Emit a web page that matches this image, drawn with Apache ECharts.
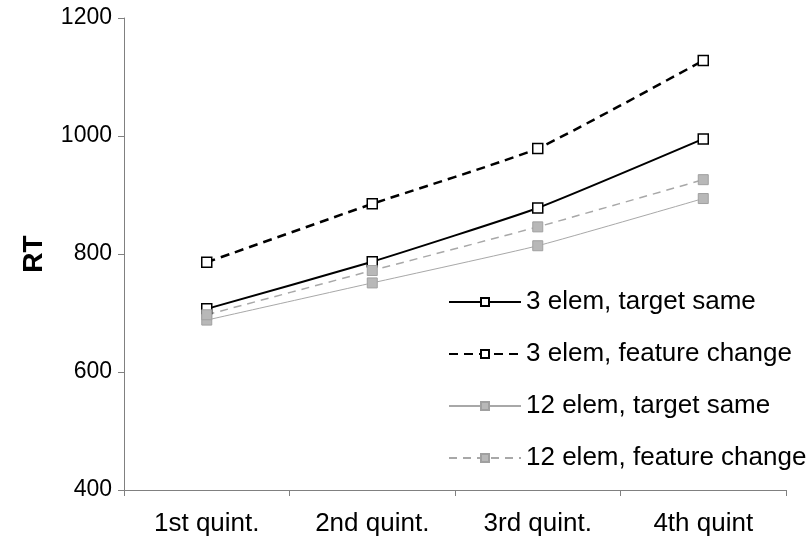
<!DOCTYPE html>
<html>
<head>
<meta charset="utf-8">
<script src="https://cdn.jsdelivr.net/npm/echarts@6/dist/echarts.min.js"></script>
<style>html,body{margin:0;padding:0;background:#fff}#c{width:808px;height:545px}</style>
</head>
<body>
<div id="c"></div>
<script>
var categories = ['1st quint.', '2nd quint.', '3rd quint.', '4th quint'];
var yTicks = [400, 600, 800, 1000, 1200];
var seriesNames = ['3 elem, target same', '3 elem, feature change', '12 elem, target same', '12 elem, feature change'];
var elem3TargetSame = [707, 787, 878, 995];
var elem3FeatureChange = [786, 885, 979, 1128];
var elem12TargetSame = [688, 751, 814, 894];
var elem12FeatureChange = [697, 772, 846, 926];

var chart = echarts.init(document.getElementById('c'), null, {renderer: 'canvas'});
var font = 'Liberation Sans, Arial, sans-serif';
function mk(name, data, lineColor, width, type, fill, border) {
  return {
    name: name, type: 'line', data: data, smooth: 0.15,
    symbol: 'rect', symbolSize: 10,
    lineStyle: {color: lineColor, width: width, type: type},
    itemStyle: {color: fill, borderColor: border, borderWidth: fill === '#ffffff' ? 1.5 : 1},
    emphasis: {disabled: true}, z: 3
  };
}
chart.setOption({
  animation: false,
  backgroundColor: '#ffffff',
  grid: {left: 124, top: 18, right: 22, bottom: 55, containLabel: false},
  xAxis: {
    type: 'category', data: categories, boundaryGap: true,
    axisLine: {lineStyle: {color: '#808080', width: 1}},
    axisTick: {show: true, alignWithLabel: false, length: 6, lineStyle: {color: '#808080'}},
    axisLabel: {color: '#000', fontSize: 26, fontFamily: font, margin: 21},
    splitLine: {show: false}
  },
  yAxis: {
    type: 'value', min: yTicks[0], max: yTicks[yTicks.length - 1], interval: 200,
    name: 'RT', nameLocation: 'middle', nameGap: 76, nameRotate: 90,
    nameTextStyle: {color: '#000', fontSize: 28, fontWeight: 'bold', fontFamily: font},
    axisLine: {show: true, lineStyle: {color: '#808080', width: 1}},
    axisTick: {show: true, length: 6, lineStyle: {color: '#808080'}},
    axisLabel: {color: '#000', fontSize: 23, fontFamily: font, margin: 12,
      formatter: function (v) { return String(v); }},
    splitLine: {show: false}
  },
  legend: {
    orient: 'vertical', left: 443, top: 284, itemGap: 26,
    itemWidth: 72, itemHeight: 10,
    textStyle: {color: '#000', fontSize: 26, fontFamily: font},
    data: seriesNames
  },
  series: [
    mk(seriesNames[0], elem3TargetSame, '#000000', 2, 'solid', '#ffffff', '#000000'),
    mk(seriesNames[1], elem3FeatureChange, '#000000', 2.5, [9, 6], '#ffffff', '#000000'),
    mk(seriesNames[2], elem12TargetSame, '#a8a8a8', 1, 'solid', '#b8b8b8', '#a0a0a0'),
    mk(seriesNames[3], elem12FeatureChange, '#a8a8a8', 1.5, [8, 6], '#b8b8b8', '#a0a0a0')
  ]
});
</script>
</body>
</html>
